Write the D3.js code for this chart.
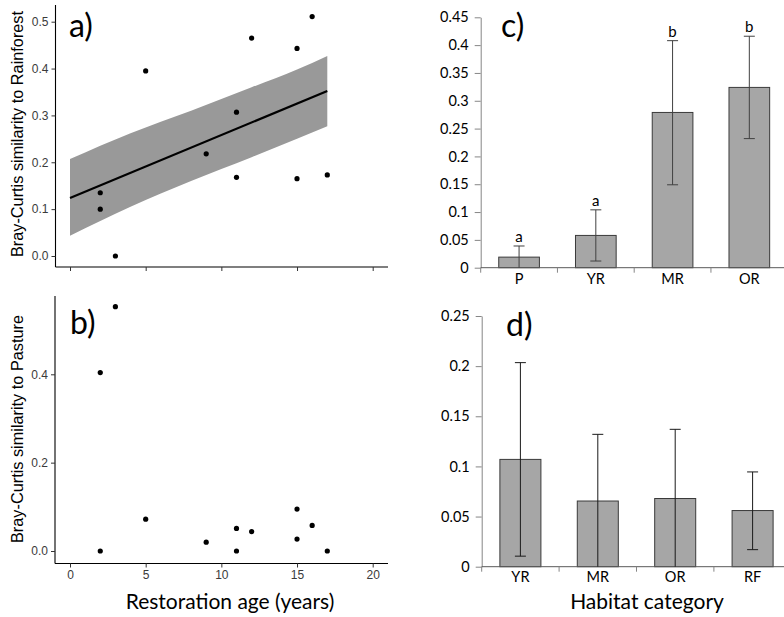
<!DOCTYPE html>
<html><head><meta charset="utf-8">
<script src="https://cdn.jsdelivr.net/npm/d3@7"></script>
<style>
body{margin:0;background:#fff;}
svg{display:block;}
</style></head>
<body>
<svg id="chart" width="784" height="617"></svg>
<script>
// ---- Data ----
// Panel a: similarity to rainforest vs restoration age
const ageA = [2, 2, 3, 5, 9, 11, 11, 12, 15, 15, 16, 17];
const simRainforest = [0.135, 0.100, 0.000, 0.395, 0.218, 0.307, 0.168, 0.465, 0.443, 0.165, 0.511, 0.173];
// regression line and confidence band
const fitAge = [0, 17];
const fitValue = [0.124, 0.352];
const bandAge = [0, 4, 8, 12, 15, 17];
const bandUpper = [0.207, 0.262, 0.310, 0.360, 0.398, 0.427];
const bandLower = [0.043, 0.105, 0.160, 0.211, 0.250, 0.277];
// Panel b: similarity to pasture vs restoration age
const ageB = [2, 2, 3, 5, 9, 11, 11, 12, 15, 15, 16, 17];
const simPasture = [0.404, 0.000, 0.553, 0.072, 0.020, 0.051, 0.000, 0.044, 0.095, 0.027, 0.058, 0.000];
const ageTicks = [0, 5, 10, 15, 20];
const ticksA = [0, 0.1, 0.2, 0.3, 0.4, 0.5];
const ticksB = [0, 0.2, 0.4];
// Panel c
const catC = ["P", "YR", "MR", "OR"];
const meanC = [0.019, 0.058, 0.279, 0.324];
const errLowC = [0.000, 0.012, 0.149, 0.232];
const errHighC = [0.039, 0.104, 0.408, 0.416];
const lettersC = ["a", "a", "b", "b"];
const ticksC = [0, 0.05, 0.1, 0.15, 0.2, 0.25, 0.3, 0.35, 0.4, 0.45];
// Panel d
const catD = ["YR", "MR", "OR", "RF"];
const meanD = [0.107, 0.0655, 0.068, 0.056];
const errLowD = [0.0105, 0.000, 0.000, 0.017];
const errHighD = [0.2035, 0.132, 0.137, 0.0945];
const ticksD = [0, 0.05, 0.1, 0.15, 0.2, 0.25];

const svg = d3.select("#chart");
const ggFont = "'Liberation Sans', Arial, sans-serif";
const calFont = "Lato, 'Open Sans', sans-serif";

// ---------- Panels a & b (ggplot style) ----------
function scatterPanel(opt) {
  const g = svg.append("g");
  const x = d3.scaleLinear().domain([0, 20]).range([70, 372.7]);
  const y = d3.scaleLinear().domain(opt.yDomain).range(opt.yRange);
  // axis lines
  g.append("line").attr("x1", opt.axX).attr("x2", opt.axX).attr("y1", opt.axTop).attr("y2", opt.axBottom)
    .attr("stroke", "#000").attr("stroke-width", 1.1);
  g.append("line").attr("x1", opt.axX).attr("x2", 388).attr("y1", opt.axBottom).attr("y2", opt.axBottom)
    .attr("stroke", "#000").attr("stroke-width", 1.1);
  // y axis
  const ya = g.append("g").attr("transform", `translate(${opt.axX},0)`)
    .call(d3.axisLeft(y).tickValues(opt.yTicks).tickFormat(d3.format(".1f")).tickSize(4).tickPadding(3));
  ya.select(".domain").remove();
  ya.selectAll(".tick line").attr("stroke", "#333");
  ya.selectAll(".tick text").attr("font-family", ggFont).attr("font-size", 12).attr("fill", "#3a3a3a");
  // x axis
  const xa = g.append("g").attr("transform", `translate(0,${opt.axBottom})`)
    .call(d3.axisBottom(x).tickValues(ageTicks).tickSize(4).tickPadding(3));
  xa.select(".domain").remove();
  xa.selectAll(".tick line").attr("stroke", "#333");
  xa.selectAll(".tick text").attr("font-family", ggFont).attr("font-size", 12).attr("fill", "#3a3a3a");
  if (!opt.xLabels) xa.selectAll(".tick text").remove();
  // band + line
  if (opt.band) {
    const area = d3.area().x((d, i) => x(bandAge[i])).y0((d, i) => y(bandLower[i])).y1((d, i) => y(bandUpper[i]))
      .curve(d3.curveMonotoneX);
    g.append("path").datum(bandAge).attr("d", area).attr("fill", "#999999");
    const line = d3.line().x((d, i) => x(fitAge[i])).y((d, i) => y(fitValue[i]));
    g.append("path").datum(fitAge).attr("d", line).attr("stroke", "#000").attr("stroke-width", 2.2).attr("fill", "none");
  }
  // points
  g.selectAll("circle.pt").data(opt.ages).enter().append("circle")
    .attr("cx", (d) => x(d)).attr("cy", (d, i) => y(opt.vals[i])).attr("r", 2.6).attr("fill", "#000");
  // y title
  g.append("text").attr("transform", `translate(${opt.titleX},${opt.titleY}) rotate(-90)`)
    .attr("text-anchor", "middle").attr("font-family", ggFont).attr("font-size", 16.3).attr("fill", "#000")
    .text(opt.title);
  // panel letter
  g.append("text").attr("x", opt.letterX).attr("y", opt.letterY).attr("font-family", calFont)
    .attr("font-size", 32).attr("fill", "#000").text(opt.letter);
  return {x, y};
}

scatterPanel({
  yDomain: [0, 0.5], yRange: [256, 21.7], yTicks: ticksA,
  axX: 55.5, axTop: 5, axBottom: 267, band: true, xLabels: false,
  ages: ageA, vals: simRainforest,
  title: "Bray-Curtis similarity to Rainforest", titleX: 23, titleY: 134,
  letter: "a)", letterX: 69, letterY: 37
});
scatterPanel({
  yDomain: [0, 0.4], yRange: [551, 374.3], yTicks: ticksB,
  axX: 55, axTop: 296, axBottom: 563.5, band: false, xLabels: true,
  ages: ageB, vals: simPasture,
  title: "Bray-Curtis similarity to Pasture", titleX: 23, titleY: 429,
  letter: "b)", letterX: 70, letterY: 334
});
svg.append("text").attr("x", 230).attr("y", 609).attr("text-anchor", "middle")
  .attr("font-family", calFont).attr("font-size", 21).attr("fill", "#000").text("Restoration age (years)");

// ---------- Panels c & d (Excel style) ----------
function barPanel(opt) {
  const g = svg.append("g");
  const x = d3.scaleBand().domain(opt.cats).range(opt.xRange).paddingInner(0.47).paddingOuter(0.235);
  const y = d3.scaleLinear().domain(opt.yDomain).range(opt.yRange);
  const axCol = "#868686";
  // y axis
  const ya = g.append("g").attr("transform", `translate(${opt.xRange[0]},0)`)
    .call(d3.axisLeft(y).tickValues(opt.yTicks).tickFormat(d3.format("~g")).tickSize(6).tickSizeOuter(0).tickPadding(6));
  ya.select(".domain").attr("stroke", axCol);
  ya.selectAll(".tick line").attr("stroke", axCol);
  ya.selectAll(".tick text").attr("font-family", calFont).attr("font-size", 14.5).attr("fill", "#000");
  // bars
  g.selectAll("rect.bar").data(opt.cats).enter().append("rect")
    .attr("x", (d) => x(d)).attr("width", x.bandwidth())
    .attr("y", (d, i) => y(opt.means[i])).attr("height", (d, i) => y(0) - y(opt.means[i]))
    .attr("fill", "#a6a6a6").attr("stroke", "#3a3a3a").attr("stroke-width", 1);
  // x axis line and category ticks
  g.append("line").attr("x1", opt.xRange[0]).attr("x2", 784).attr("y1", y(0)).attr("y2", y(0)).attr("stroke", "#595959");
  const bounds = opt.cats.map((d) => x(d) - x.step() * 0.235);
  g.selectAll("line.ct").data(bounds).enter().append("line")
    .attr("x1", (d) => d).attr("x2", (d) => d).attr("y1", y(0)).attr("y2", y(0) + 5).attr("stroke", axCol);
  g.selectAll("text.cat").data(opt.cats).enter().append("text")
    .attr("x", (d) => x(d) + x.bandwidth() / 2).attr("y", y(0) + opt.catDy).attr("text-anchor", "middle")
    .attr("font-family", calFont).attr("font-size", 14.5).attr("fill", "#000").text((d) => d);
  // error bars
  const eb = g.selectAll("g.eb").data(opt.cats).enter().append("g");
  eb.append("line").attr("x1", (d) => x(d) + x.bandwidth() / 2).attr("x2", (d) => x(d) + x.bandwidth() / 2)
    .attr("y1", (d, i) => y(opt.lo[i])).attr("y2", (d, i) => y(opt.hi[i])).attr("stroke", opt.ebCol).attr("stroke-width", 1);
  eb.append("line").attr("x1", (d) => x(d) + x.bandwidth() / 2 - 5.5).attr("x2", (d) => x(d) + x.bandwidth() / 2 + 5.5)
    .attr("y1", (d, i) => y(opt.hi[i])).attr("y2", (d, i) => y(opt.hi[i])).attr("stroke", opt.ebCol).attr("stroke-width", 1);
  eb.filter((d, i) => opt.lo[i] > 0).append("line")
    .attr("x1", (d) => x(d) + x.bandwidth() / 2 - 5.5).attr("x2", (d) => x(d) + x.bandwidth() / 2 + 5.5)
    .attr("y1", (d) => y(opt.lo[opt.cats.indexOf(d)])).attr("y2", (d) => y(opt.lo[opt.cats.indexOf(d)]))
    .attr("stroke", opt.ebCol).attr("stroke-width", 1);
  if (opt.letters) {
    g.selectAll("text.let").data(opt.cats).enter().append("text")
      .attr("x", (d) => x(d) + x.bandwidth() / 2).attr("y", (d, i) => y(opt.hi[i]) - 4).attr("text-anchor", "middle")
      .attr("font-family", calFont).attr("font-size", 15).attr("fill", "#000").text((d, i) => opt.letters[i]);
  }
  g.append("text").attr("x", opt.letterX).attr("y", opt.letterY).attr("font-family", calFont)
    .attr("font-size", 32).attr("fill", "#000").text(opt.letter);
}

barPanel({
  cats: catC, means: meanC, lo: errLowC, hi: errHighC, letters: lettersC,
  xRange: [480.7, 787.7], yDomain: [0, 0.45], yRange: [267.7, 17.3], yTicks: ticksC,
  catDy: 16, ebCol: "#404040", letter: "c)", letterX: 501, letterY: 37
});
barPanel({
  cats: catD, means: meanD, lo: errLowD, hi: errHighD, letters: null,
  xRange: [481.7, 791.3], yDomain: [0, 0.25], yRange: [566.7, 316], yTicks: ticksD,
  catDy: 15, ebCol: "#1a1a1a", letter: "d)", letterX: 506, letterY: 336
});
svg.append("text").attr("x", 647).attr("y", 609).attr("text-anchor", "middle")
  .attr("font-family", calFont).attr("font-size", 21).attr("fill", "#000").text("Habitat category");
</script>
</body></html>
